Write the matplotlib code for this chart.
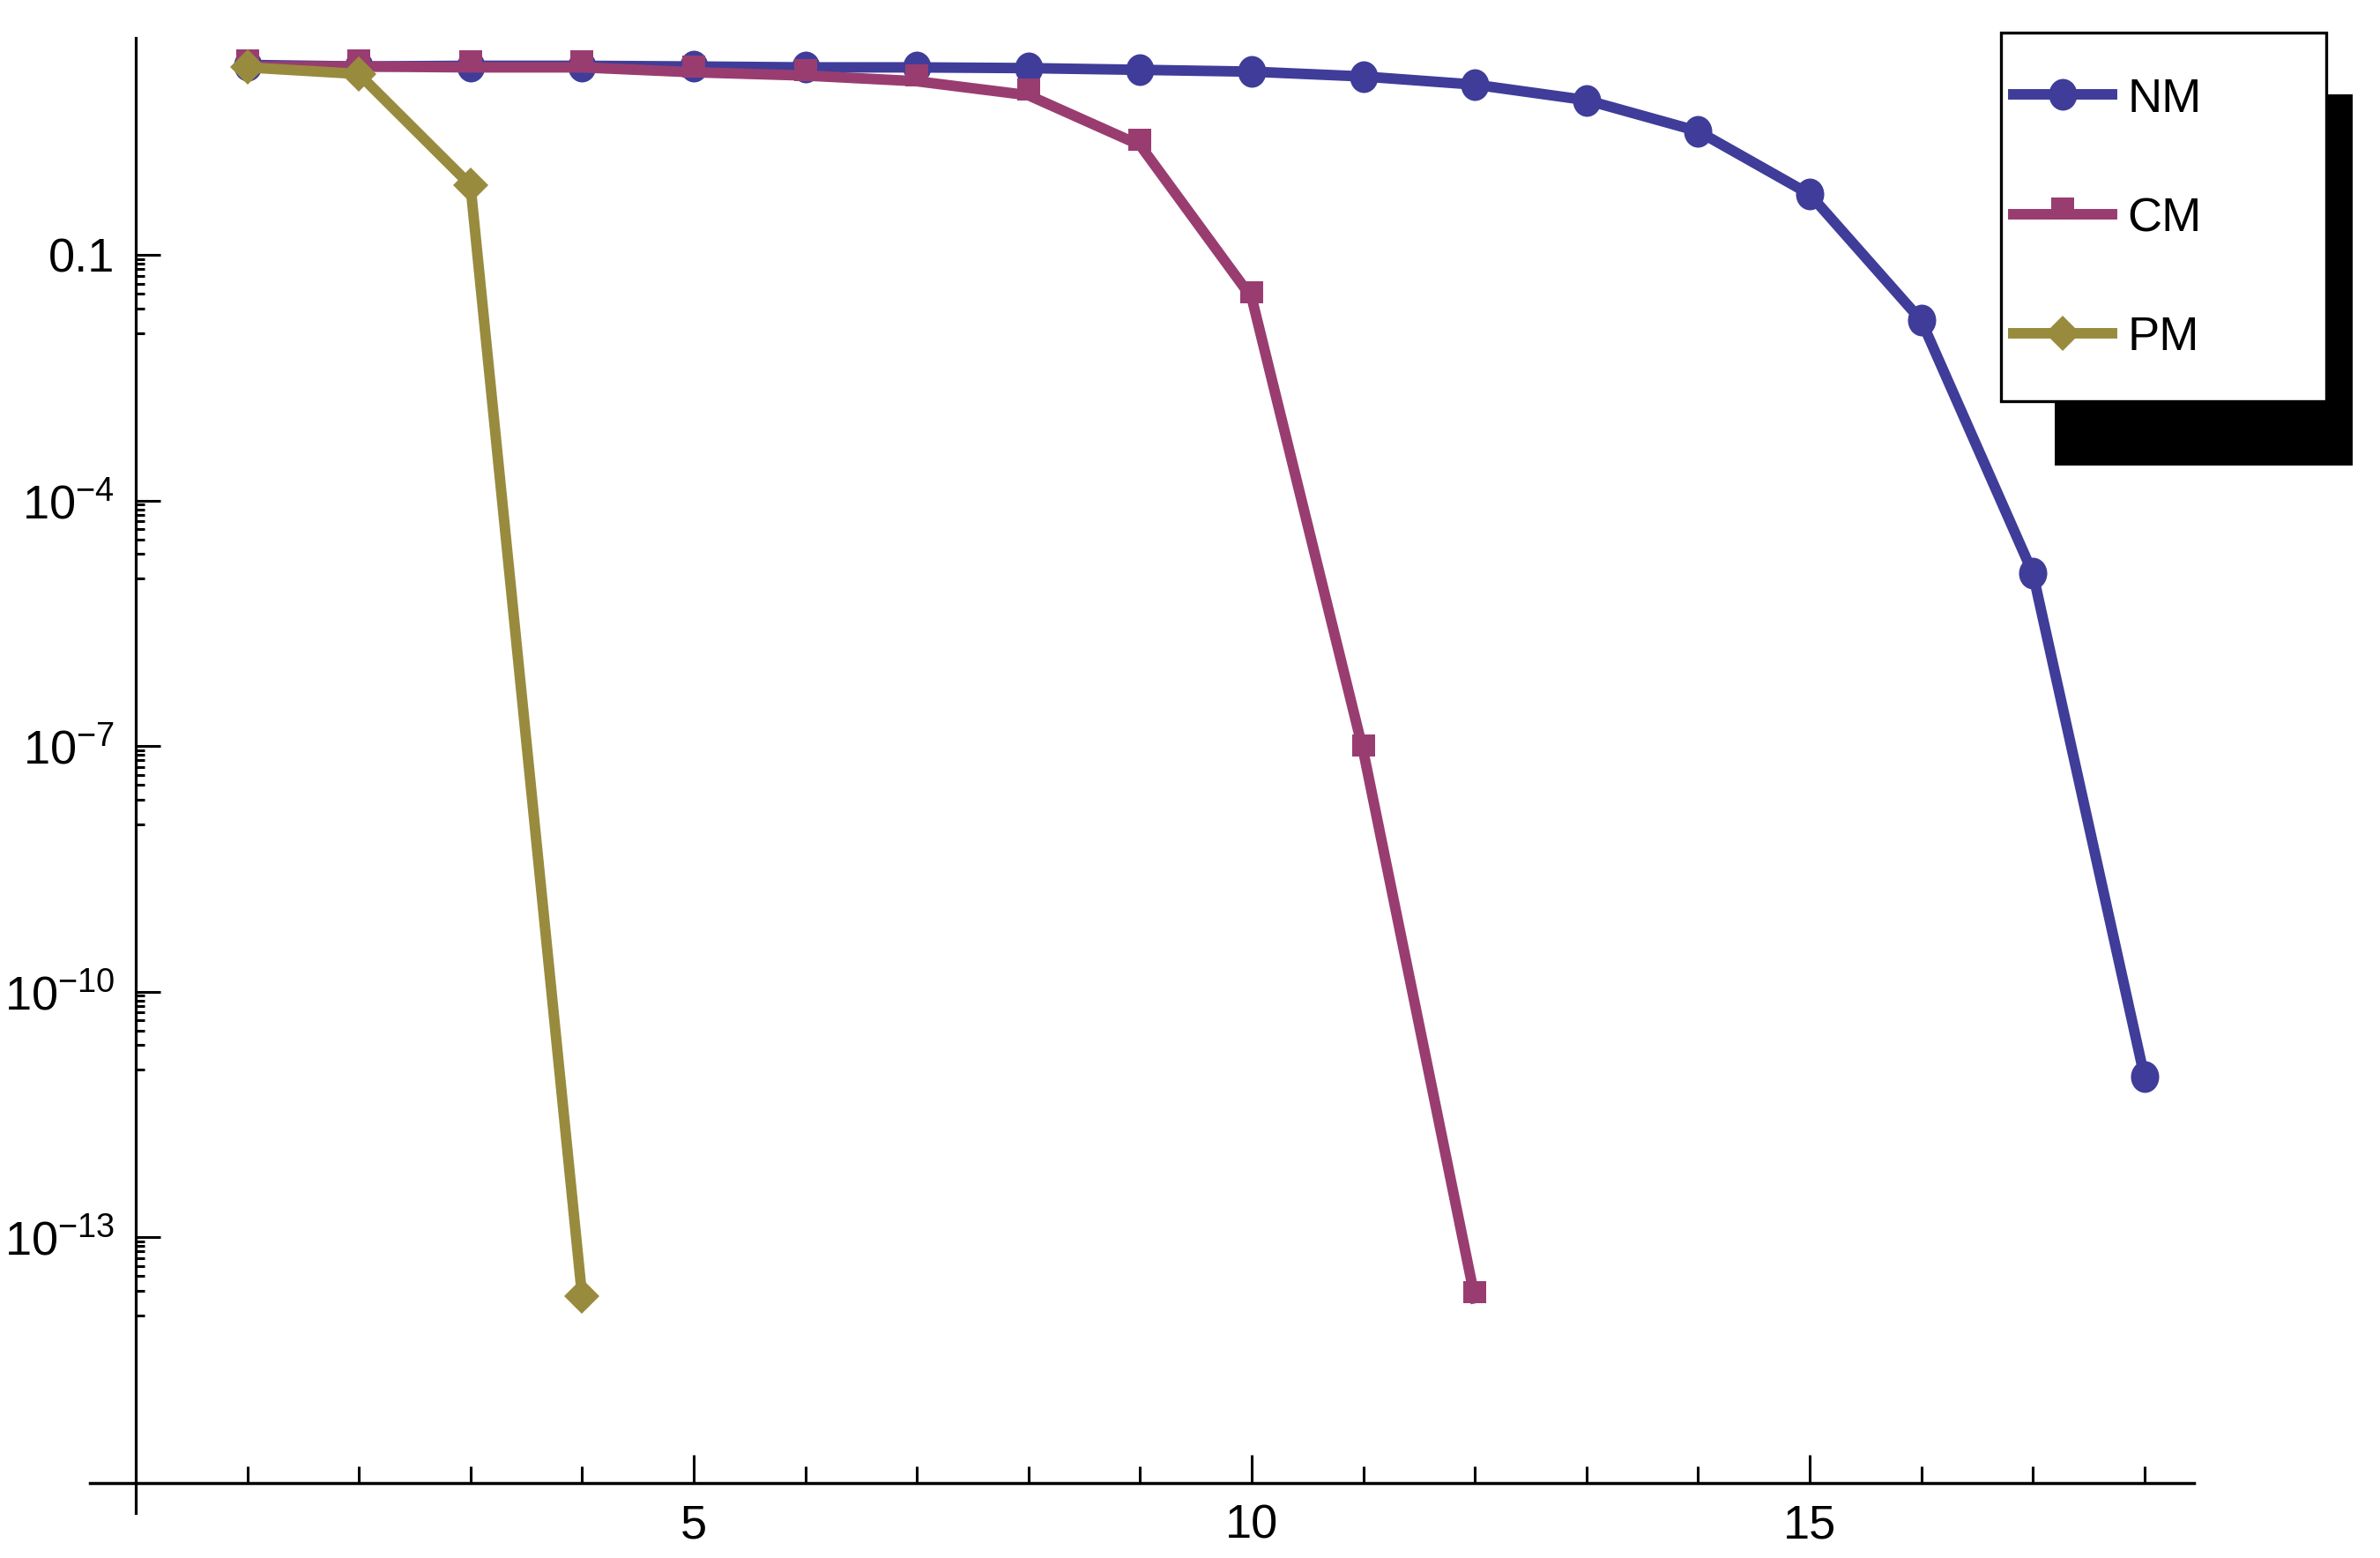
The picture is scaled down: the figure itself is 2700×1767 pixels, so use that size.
import numpy as np
import matplotlib
matplotlib.use("Agg")
import matplotlib.pyplot as plt
from matplotlib.path import Path
from matplotlib.markers import MarkerStyle
from matplotlib.transforms import Affine2D
from matplotlib.patches import Rectangle
from matplotlib.legend_handler import HandlerLine2D

plt.rcParams['font.family'] = ['Liberation Sans', 'DejaVu Sans']
plt.rcParams['mathtext.default'] = 'regular'

# iteration numbers and errors
nm_x = list(range(1, 19))
nm_y = [20.9, 20.0, 20.4, 20.4, 20.0, 19.5, 19.5, 19.1, 18.2, 17.3, 15.1, 12.0,
        7.76, 3.24, 0.55, 0.0158, 1.29e-5, 9.1e-12]
cm_x = list(range(1, 13))
cm_y = [20.0, 20.0, 19.5, 19.5, 17.0, 15.5, 13.2, 8.9, 2.19, 0.030, 8.7e-8, 1.8e-14]
pm_x = [1, 2, 3, 4]
pm_y = [19.5, 16.2, 0.71, 1.9e-14]

series_names = ['NM', 'CM', 'PM']
colors = ['#3F3D99', '#993D71', '#998B3D']

y_major = [1e-1, 1e-4, 1e-7, 1e-10, 1e-13]
y_labels = ['0.1', '$10^{-4}$', '$10^{-7}$', '$10^{-10}$', '$10^{-13}$']
x_major = [5, 10, 15]


class LoweredLine(HandlerLine2D):
    # tall legend rows, but keep the sample level with the label text
    def create_artists(self, legend, orig_handle, xdescent, ydescent, width, height, fontsize, trans):
        arts = super().create_artists(legend, orig_handle, xdescent, ydescent,
                                      width, height, fontsize, trans)
        for a in arts:
            a.set_ydata(np.asarray(a.get_ydata(), float) - 0.335 * fontsize)
        return arts


W, H = 2700, 1767
fig = plt.figure(figsize=(27, 17.67), dpi=100)
ax = fig.add_axes([102 / W, 1 - 1716 / H, 2386.5 / W, 1673 / H])

# Mathematica-like glyph markers
circ = MarkerStyle(Path.unit_circle().transformed(Affine2D().scale(0.89, 1.0)))
sq = MarkerStyle(Path([(-0.5, -0.24), (0.5, -0.24), (0.5, 0.76), (-0.5, 0.76), (-0.5, -0.24)],
                      [Path.MOVETO, Path.LINETO, Path.LINETO, Path.LINETO, Path.CLOSEPOLY]))

lw = 8.6
h1, = ax.plot(nm_x, nm_y, color=colors[0], lw=lw, marker=circ, ms=25.9, mew=0, clip_on=False)
h2, = ax.plot(cm_x, cm_y, color=colors[1], lw=lw, marker=sq, ms=27.4, mew=0, clip_on=False)
h3, = ax.plot(pm_x, pm_y, color=colors[2], lw=lw, marker='D', ms=20.4, mew=0, clip_on=False)

ax.set_yscale('log')
ax.set_xlim(-0.41, 18.44)
ax.set_ylim(10 ** -16.37, 10 ** 1.65)

for s in ['top', 'right']:
    ax.spines[s].set_visible(False)
ax.spines['left'].set_position(('data', 0))
ax.spines['bottom'].set_position(('data', 1e-16))
ax.spines['left'].set_linewidth(2.3)
ax.spines['bottom'].set_linewidth(2.5)

ax.set_yticks(y_major)
ax.set_yticklabels(y_labels)
y_minor = [m * j / 9 for m in y_major for j in range(1, 9)]
ax.set_yticks(y_minor, minor=True)
ax.set_xticks(x_major)
ax.set_xticks([i for i in range(1, 19) if i not in x_major], minor=True)

ax.tick_params(axis='both', which='both', direction='in', width=2.2, labelsize=39, pad=17)
ax.tick_params(axis='y', which='major', length=20.4)
ax.tick_params(axis='y', which='minor', length=7)
ax.tick_params(axis='x', which='major', length=23)
ax.tick_params(axis='x', which='minor', length=13.7)
ax.yaxis.set_minor_formatter(matplotlib.ticker.NullFormatter())

# legend with offset shadow
shadow = Rectangle((2331 / W, 1 - 528 / H), 338 / W, 421 / H, transform=fig.transFigure,
                   facecolor='black', edgecolor='none', zorder=4)
fig.patches.append(shadow)
leg = fig.legend([h1, h2, h3], series_names, loc='upper left',
                 bbox_to_anchor=(2270 / W, 1 - 37.5 / H, 369 / W, 0), mode='expand',
                 bbox_transform=fig.transFigure, borderaxespad=0, borderpad=0.26,
                 handlelength=2.07, handletextpad=0.31, handleheight=3.0, labelspacing=0.3,
                 fancybox=False, framealpha=1, edgecolor='black', fontsize=39,
                 handler_map={matplotlib.lines.Line2D: LoweredLine()})
leg.get_frame().set_linewidth(2.4)
leg.set_zorder(5)

fig.savefig('out.png', dpi=100)
